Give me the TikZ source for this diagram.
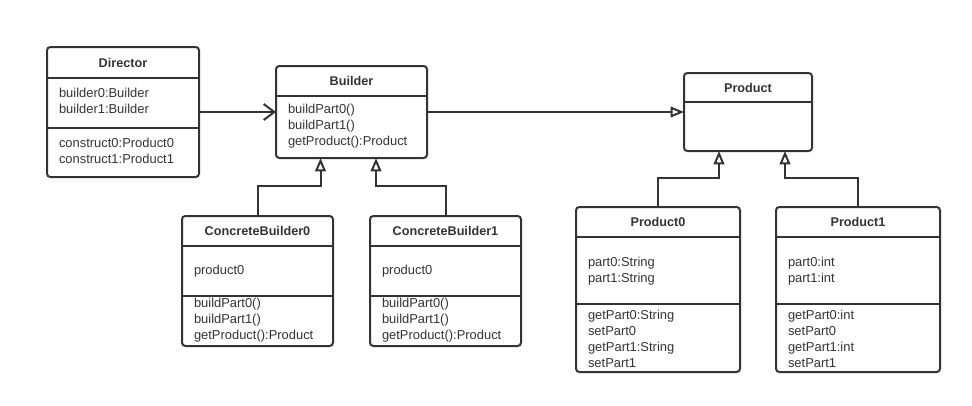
\documentclass[tikz,border=0pt]{standalone}
\usepackage{fontspec}
\setmainfont{Liberation Sans}
\usetikzlibrary{arrows.meta}
\usetikzlibrary{calc}

\definecolor{umlgray}{RGB}{51,51,51}

\begin{document}
\begin{tikzpicture}[x=0.75pt, y=-0.75pt, line width=1.5pt, color=umlgray,
	every node/.style={font=\fontsize{9.7}{12}\selectfont},
	classbox/.style={draw, rounded corners=2.5pt, anchor=north west, inner sep=0pt, outer sep=0pt},
	title/.style={font=\fontsize{9.5}{12}\selectfont\bfseries},
	members/.style={align=left, anchor=west, inner sep=0pt},
	assoc/.style={-{Straight Barb[length=8pt,width=12pt]}},
	inherit/.style={-{Triangle[open,length=10pt,width=8pt]}}]
				\useasboundingbox (0,0) rectangle (972,405);
				
				\begin{scope}[shift={(47,47)}]
					\node[classbox, minimum width=114pt, minimum height=97.5pt] (director) at (0,0) {};
					\node[title] at (76,16) {Director};
					\draw (0,31) -- (152,31);
					\draw (0,81) -- (152,81);
					\node[members] at (11,54) {builder0:Builder\\builder1:Builder};
					\node[members] at (11,104) {construct0:Product0\\construct1:Product1};
				\end{scope}
				
				\begin{scope}[shift={(276,66)}]
					\node[classbox, minimum width=113.25pt, minimum height=69pt] (builder) at (0,0) {};
					\node[title] at (75.5,15) {Builder};
					\draw (0,30) -- (151,30);
					\node[members] at (11,60) {buildPart0()\\buildPart1()\\getProduct():Product};
				\end{scope}
				
				\begin{scope}[shift={(182,216)}]
					\node[classbox, minimum width=113.25pt, minimum height=97.5pt] (cb0) at (0,0) {};
					\node[title] at (75.5,15) {ConcreteBuilder0};
					\draw (0,30) -- (151,30);
					\draw (0,80) -- (151,80);
					\node[members] at (11,55) {product0};
					\node[members] at (11,104.5) {buildPart0()\\buildPart1()\\getProduct():Product};
				\end{scope}
				
				\begin{scope}[shift={(370,216)}]
					\node[classbox, minimum width=113.25pt, minimum height=97.5pt] (cb1) at (0,0) {};
					\node[title] at (75.5,15) {ConcreteBuilder1};
					\draw (0,30) -- (151,30);
					\draw (0,80) -- (151,80);
					\node[members] at (11,55) {product0};
					\node[members] at (11,104.5) {buildPart0()\\buildPart1()\\getProduct():Product};
				\end{scope}
				
				\begin{scope}[shift={(684,73)}]
					\node[classbox, minimum width=96pt, minimum height=58.5pt] (product) at (0,0) {};
					\node[title] at (64,15) {Product};
					\draw (0,29) -- (128,29);
				\end{scope}
				
				\begin{scope}[shift={(576,207)}]
					\node[classbox, minimum width=123pt, minimum height=123.75pt] (product0) at (0,0) {};
					\node[title] at (82,15) {Product0};
					\draw (0,30) -- (164,30);
					\draw (0,97) -- (164,97);
					\node[members] at (11,64) {part0:String\\part1:String};
					\node[members] at (11,132) {getPart0:String\\setPart0\\getPart1:String\\setPart1};
				\end{scope}
				
				\begin{scope}[shift={(776,207)}]
					\node[classbox, minimum width=123pt, minimum height=123.75pt] (product1) at (0,0) {};
					\node[title] at (82,15) {Product1};
					\draw (0,30) -- (164,30);
					\draw (0,97) -- (164,97);
					\node[members] at (11,64) {part0:int\\part1:int};
					\node[members] at (11,132) {getPart0:int\\setPart0\\getPart1:int\\setPart1};
				\end{scope}
				
				\draw[assoc] (director.east) -- (builder.west);
				\draw[inherit] (builder.east) -- (product.west);
				\draw[inherit] (cb0.north) -- ++(0,-30) -| ($(builder.south)+(-31,0)$);
				\draw[inherit] (cb1.north) -- ++(0,-30) -| ($(builder.south)+(24.5,0)$);
				\draw[inherit] (product0.north) -- ++(0,-29) -| ($(product.south)+(-29,0)$);
				\draw[inherit] (product1.north) -- ++(0,-29) -| ($(product.south)+(37,0)$);
			\end{tikzpicture}
\end{document}
